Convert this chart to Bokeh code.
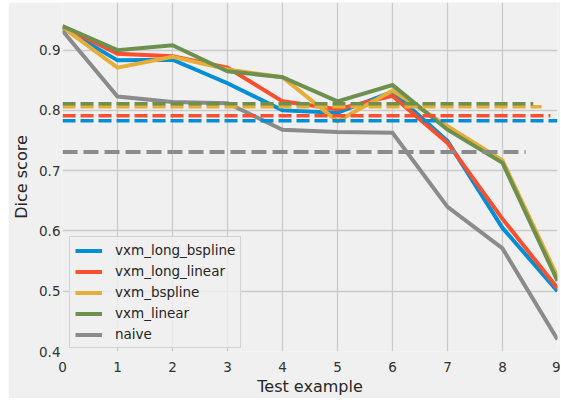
from bokeh.plotting import figure
from bokeh.models import FixedTicker, Range1d, Legend, LegendItem, Spacer
from bokeh.layouts import row, column
from bokeh.embed import file_html
from bokeh.resources import INLINE

x = list(range(10))
series_names = ["vxm_long_bspline", "vxm_long_linear", "vxm_bspline", "vxm_linear", "naive"]
long_bspline = [0.937, 0.883, 0.884, 0.845, 0.800, 0.796, 0.831, 0.749, 0.605, 0.500]
long_linear = [0.939, 0.894, 0.890, 0.871, 0.815, 0.802, 0.824, 0.746, 0.620, 0.505]
bspline = [0.938, 0.871, 0.889, 0.868, 0.855, 0.782, 0.833, 0.774, 0.717, 0.524]
linear = [0.940, 0.900, 0.908, 0.865, 0.855, 0.815, 0.842, 0.768, 0.713, 0.517]
naive = [0.932, 0.823, 0.814, 0.812, 0.768, 0.764, 0.763, 0.640, 0.571, 0.420]
means = [0.783, 0.791, 0.806, 0.811, 0.731]
mean_line_end = [9.0, 8.87, 8.71, 8.56, 8.42]
x_ticks = [0, 1, 2, 3, 4, 5, 6, 7, 8, 9]
y_ticks = [0.4, 0.5, 0.6, 0.7, 0.8, 0.9]

series = [long_bspline, long_linear, bspline, linear, naive]
colors = ["#008fd5", "#fc4f30", "#e5ae38", "#6d904f", "#8b8b8b"]

BG = "#f0f0f0"
FONT = "DejaVu Sans"

p = figure(width=552, height=396, output_backend="svg", toolbar_location=None,
           x_range=Range1d(0, 9), y_range=Range1d(0.4, 0.979),
           min_border_left=54, min_border_right=3, min_border_top=0, min_border_bottom=47,
           background_fill_color=BG, border_fill_color=BG, outline_line_color=None)

items = []
for name, ys, c in zip(series_names, series, colors):
    r = p.line(x, ys, line_color=c, line_width=4, line_join="miter")
    items.append(LegendItem(label=name, renderers=[r]))

for i, (m, xe, c) in enumerate(zip(means, mean_line_end, colors)):
    gray = (i == 4)
    p.line([0, xe], [m, m], line_color=c, line_width=4 if gray else 3.5,
           line_dash="15 6" if gray else "13 5")

for ax in (p.xaxis[0], p.yaxis[0]):
    ax.axis_line_color = None
    ax.major_tick_line_color = None
    ax.minor_tick_line_color = None
    ax.major_tick_out = 0
    ax.major_tick_in = 0
    ax.major_label_text_font = FONT
    ax.major_label_text_font_size = "13.5px"
    ax.major_label_text_color = "#333333"
    ax.axis_label_text_font = FONT
    ax.axis_label_text_font_size = "16px"
    ax.axis_label_text_font_style = "normal"
    ax.axis_label_text_color = "#262626"

p.xaxis.ticker = FixedTicker(ticks=x_ticks)
p.yaxis.ticker = FixedTicker(ticks=y_ticks)
p.xaxis.axis_label = "Test example"
p.yaxis.axis_label = "Dice score"
p.xaxis.major_label_standoff = 10
p.yaxis.major_label_standoff = 2
p.xaxis.axis_label_standoff = 2
p.yaxis.axis_label_standoff = 5

p.xgrid.grid_line_color = "#cbcbcb"
p.ygrid.grid_line_color = "#cbcbcb"
p.xgrid.grid_line_width = 1.3
p.ygrid.grid_line_width = 1.3

legend = Legend(items=items, location=(7, 3))
legend.background_fill_color = BG
legend.background_fill_alpha = 0.8
legend.border_line_color = "#cccccc"
legend.border_line_alpha = 0.8
legend.label_text_font = FONT
legend.label_text_font_size = "13.5px"
legend.label_text_color = "#262626"
legend.glyph_width = 27
legend.glyph_height = 15
legend.label_height = 15
legend.label_standoff = 13
legend.spacing = 5
legend.padding = 5
legend.margin = 0
p.add_layout(legend, "center")

layout = column(Spacer(width=560, height=2),
                row(Spacer(width=8, height=396), p, spacing=0),
                spacing=0)

open("out.html", "w").write(file_html(layout, INLINE))
